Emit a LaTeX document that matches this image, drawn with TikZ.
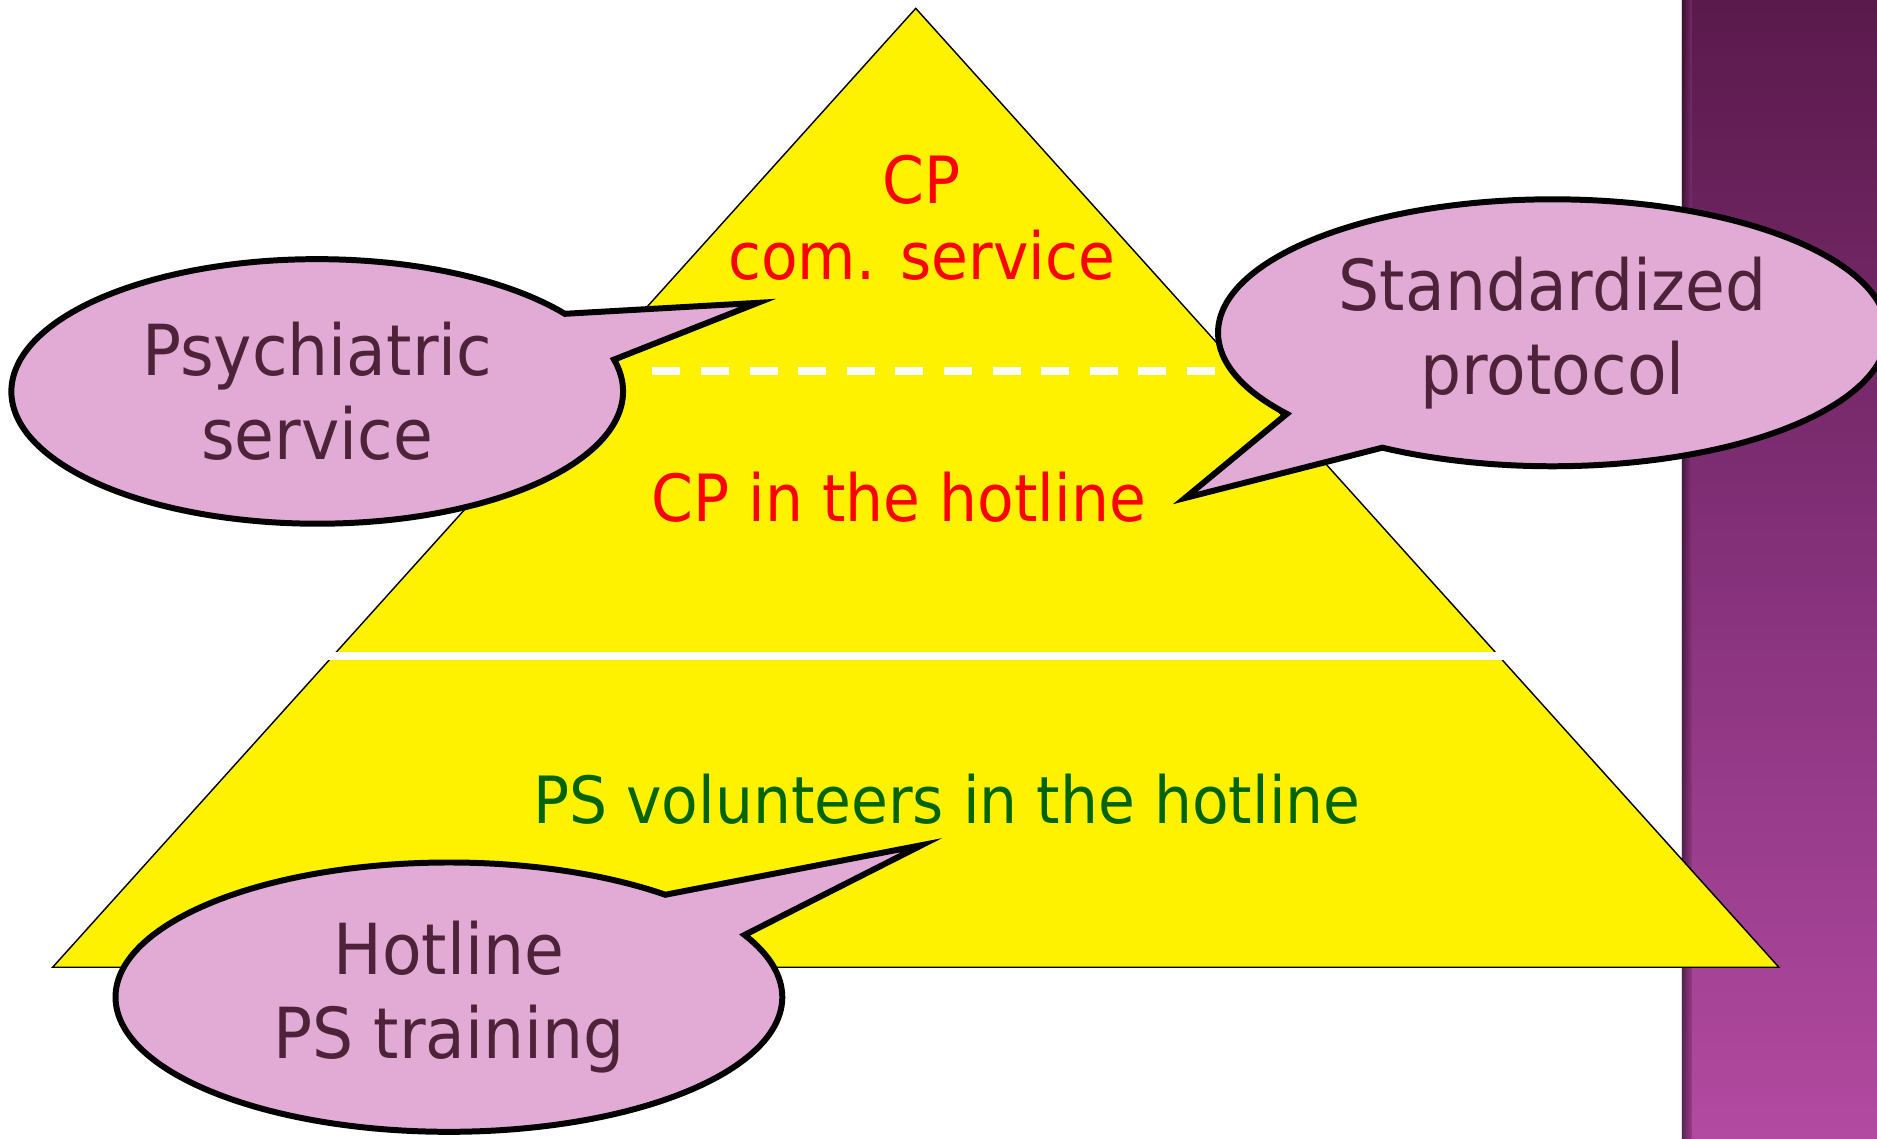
\documentclass[tikz,border=0pt]{standalone}
\usepackage{fontspec}
\usepackage{tikz}
\usetikzlibrary{shapes.callouts}
\newfontfamily\slidefont[FakeStretch=0.92]{DejaVu Sans}
\definecolor{bubblefill}{HTML}{E2ABD6}
\definecolor{bubbletext}{HTML}{4E2238}
\definecolor{volgreen}{HTML}{006400}
\definecolor{bandtop}{HTML}{5A1A4B}
\definecolor{bandmid}{HTML}{85317A}
\definecolor{bandbot}{HTML}{B24AA1}

\begin{document}
\begin{tikzpicture}[x=0.5pt,y=-0.5pt]
\tikzstyle{every node}+=[inner sep=0pt]
\tikzstyle{bubble}=[ellipse callout, draw=black, line width=2.5pt, fill=bubblefill,
  text=bubbletext, align=center, callout pointer arc=22,
  font=\slidefont\fontsize{29.4}{35}\selectfont]
\tikzstyle{level}=[align=center, font=\slidefont\fontsize{27.2}{31.5}\selectfont]
\useasboundingbox (0,0) rectangle (1568,951);
% purple band on the right
\shade [top color=bandtop, bottom color=bandbot, middle color=bandmid] (1405,0) rectangle (1568,951);
\shade [left color=black!60!bandtop, right color=bandmid, opacity=0.6] (1405,0) rectangle (1413,951);
% the pyramid
\coordinate (apex) at (765,7);
\coordinate (baseL) at (44,808);
\coordinate (baseR) at (1486,808);
\draw [fill=yellow, line width=0.6pt] (apex) -- (baseR) -- (baseL) -- cycle;
\draw [white, line width=3.3pt] (272,548) -- (1258,548);
\draw [white, line width=3.2pt, dash pattern=on 11.7pt off 8.6pt] (545,310) -- (1030,310);
% levels
\node [level, text=red] (top) at (770,182) {CP\\com. service};
\node [level, text=red] (mid) at (751,415) {CP in the hotline};
\node [level, text=volgreen] (bottom) at (791,668) {PS volunteers in the hotline};
% speech bubbles
\coordinate (psychtip) at (633,253);
\coordinate (prototip) at (990,416);
\coordinate (traintip) at (770,706);
\node [bubble, minimum width=255.5pt, minimum height=110.5pt, callout absolute pointer={(psychtip)}] (psych) at (265,327) {Psychiatric\\service};
\node [bubble, minimum width=279.5pt, minimum height=111.5pt, callout absolute pointer={(prototip)}] (proto) at (1297,278) {Standardized\\protocol};
\node [bubble, minimum width=278.5pt, minimum height=112.5pt, callout absolute pointer={(traintip)}] (train) at (375,833) {Hotline\\PS training};
\end{tikzpicture}
\end{document}
